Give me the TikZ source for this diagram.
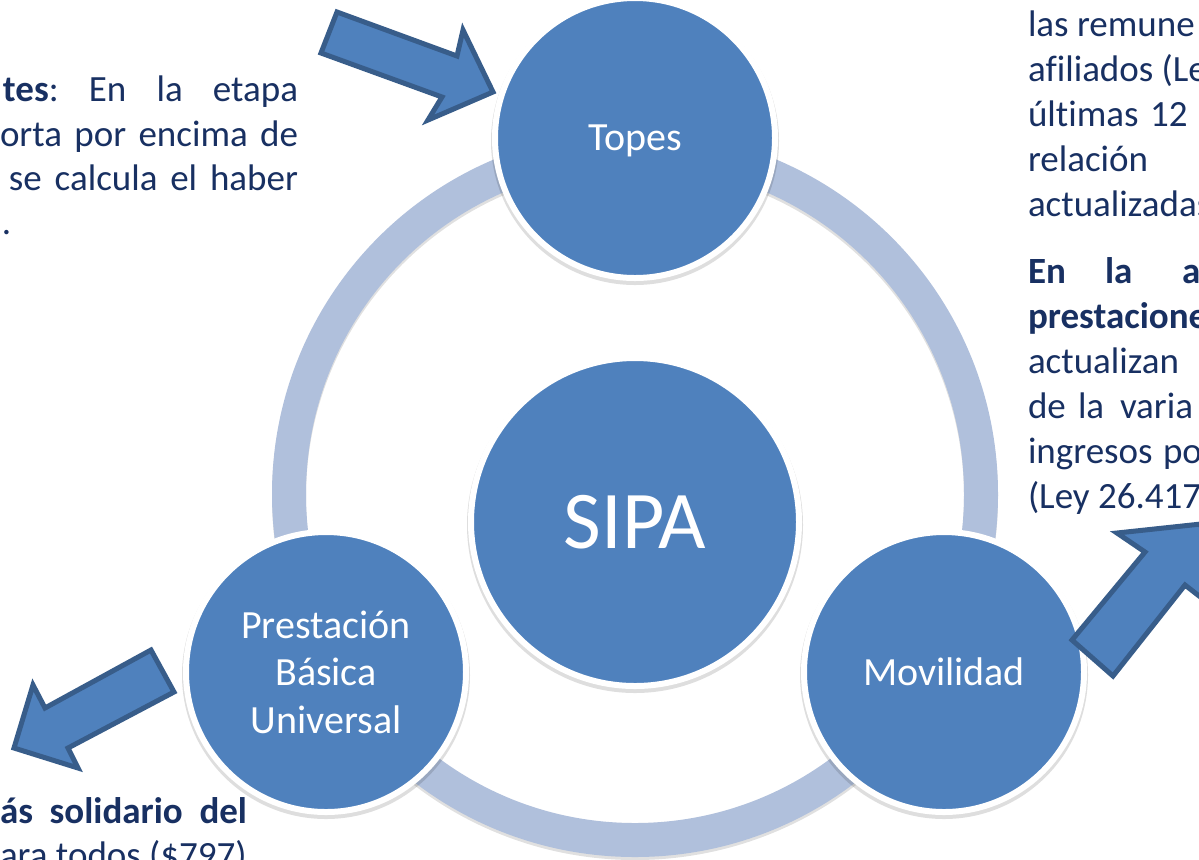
\documentclass[tikz,border=0pt]{standalone}
\usepackage{fontspec}
\setmainfont{Carlito}[Ligatures={NoCommon}]
\definecolor{circ}{RGB}{79,129,189}
\definecolor{arrowline}{RGB}{56,93,138}
\definecolor{ringc}{RGB}{176,192,220}
\definecolor{navy}{RGB}{24,48,98}
\begin{document}
\begin{tikzpicture}[x=0.5pt,y=-0.5pt,
  bub/.style={circle, fill=circ, draw=white, line width=3pt, inner sep=0pt, text=white, align=center},
  blockarrow/.style={fill=circ, draw=arrowline, line width=2.5pt, line join=miter},
  body/.style={anchor=base west, inner sep=0pt, outer sep=0pt, text=navy, font=\fontsize{18.5pt}{22.25pt}\selectfont},
  lbl/.style={font=\fontsize{20pt}{23.75pt}\selectfont, text depth=0pt},
  shad/.style={fill=black, opacity=0.13}
]
\useasboundingbox (0,0) rectangle (1199,859);
\clip (0,0) rectangle (1199,859);
\fill[white] (0,0) rectangle (1199,859);

% ring
\draw[black, opacity=0.12, line width=17pt] (635,497) circle[radius=173pt];
\draw[ringc, line width=17pt] (635,494) circle[radius=173pt];

% shadows of circles
\fill[shad] (635,141) circle[radius=72pt];
\fill[shad] (326,675) circle[radius=72pt];
\fill[shad] (944,675) circle[radius=72pt];
\fill[shad] (635,525) circle[radius=84pt];

% circles
\node[bub, minimum size=140pt, lbl] (topes) at (635,138) {Topes};
\node[bub, minimum size=140pt, lbl] (pbu) at (326,672) {Prestación\\Básica\\Universal};
\node[bub, minimum size=140pt, lbl] (mov) at (944,672) {Movilidad};
\node[bub, minimum size=164pt, font=\fontsize{41pt}{48pt}\selectfont, text depth=0pt] (sipa) at (635,522) {SIPA};

% block arrows
\draw[blockarrow] (337,12) -- (457,56) -- (463,30) -- (493,92) -- (428,120) -- (442,97) -- (321,53) -- cycle;
\draw[blockarrow] (151,650) -- (174,692) -- (68,748) -- (78,768) -- (14,748) -- (33,685) -- (45,708) -- cycle;
\draw[blockarrow] (1072,640) -- (1145,552) -- (1117,533) -- (1201,524) -- (1212,606) -- (1185,585) -- (1113,676) -- cycle;

% left top text
\node[body] (t1) at (3,101) {\makebox[147.5pt][l]{\textbf{tes}:\hfill En\hfill la\hfill etapa}};
\node[body] (t2) at (0,146) {\makebox[149pt][l]{orta\hfill por\hfill encima\hfill de}};
\node[body] (t3) at (9,190) {\makebox[144.5pt][l]{se\hfill calcula\hfill el\hfill haber}};
\node[body] (t4) at (2,234) {.};

% bottom left text
\node[body] (b1) at (0,823) {\makebox[123.5pt][l]{\textbf{ás}\hfill\textbf{solidario}\hfill\textbf{del}}};
\node[body] (b2) at (0,867) {ara todos (\$797)};

% right text
\node[body] (r1) at (1028,36) {las remune};
\node[body] (r2) at (1028,81) {afiliados (Le};
\node[body] (r3a) at (1028,126) {últimas};
\node[body] (r3b) at (1150,126) {12};
\node[body] (r4) at (1028,171) {relación};
\node[body] (r5) at (1028,216) {actualizadas};
\node[body] (r6a) at (1028,283) {\textbf{En}};
\node[body] (r6b) at (1105,283) {\textbf{la}};
\node[body] (r6c) at (1182,283) {\textbf{a}};
\node[body] (r7) at (1028,328) {\textbf{prestacione}};
\node[body] (r8) at (1028,373) {actualizan};
\node[body] (r9a) at (1028,418) {de};
\node[body] (r9b) at (1078,418) {la};
\node[body] (r9c) at (1120,418) {varia};
\node[body] (r10a) at (1028,463) {ingresos};
\node[body] (r10b) at (1163,463) {po};
\node[body] (r11) at (1028,508) {(Ley 26.417};
\end{tikzpicture}
\end{document}
